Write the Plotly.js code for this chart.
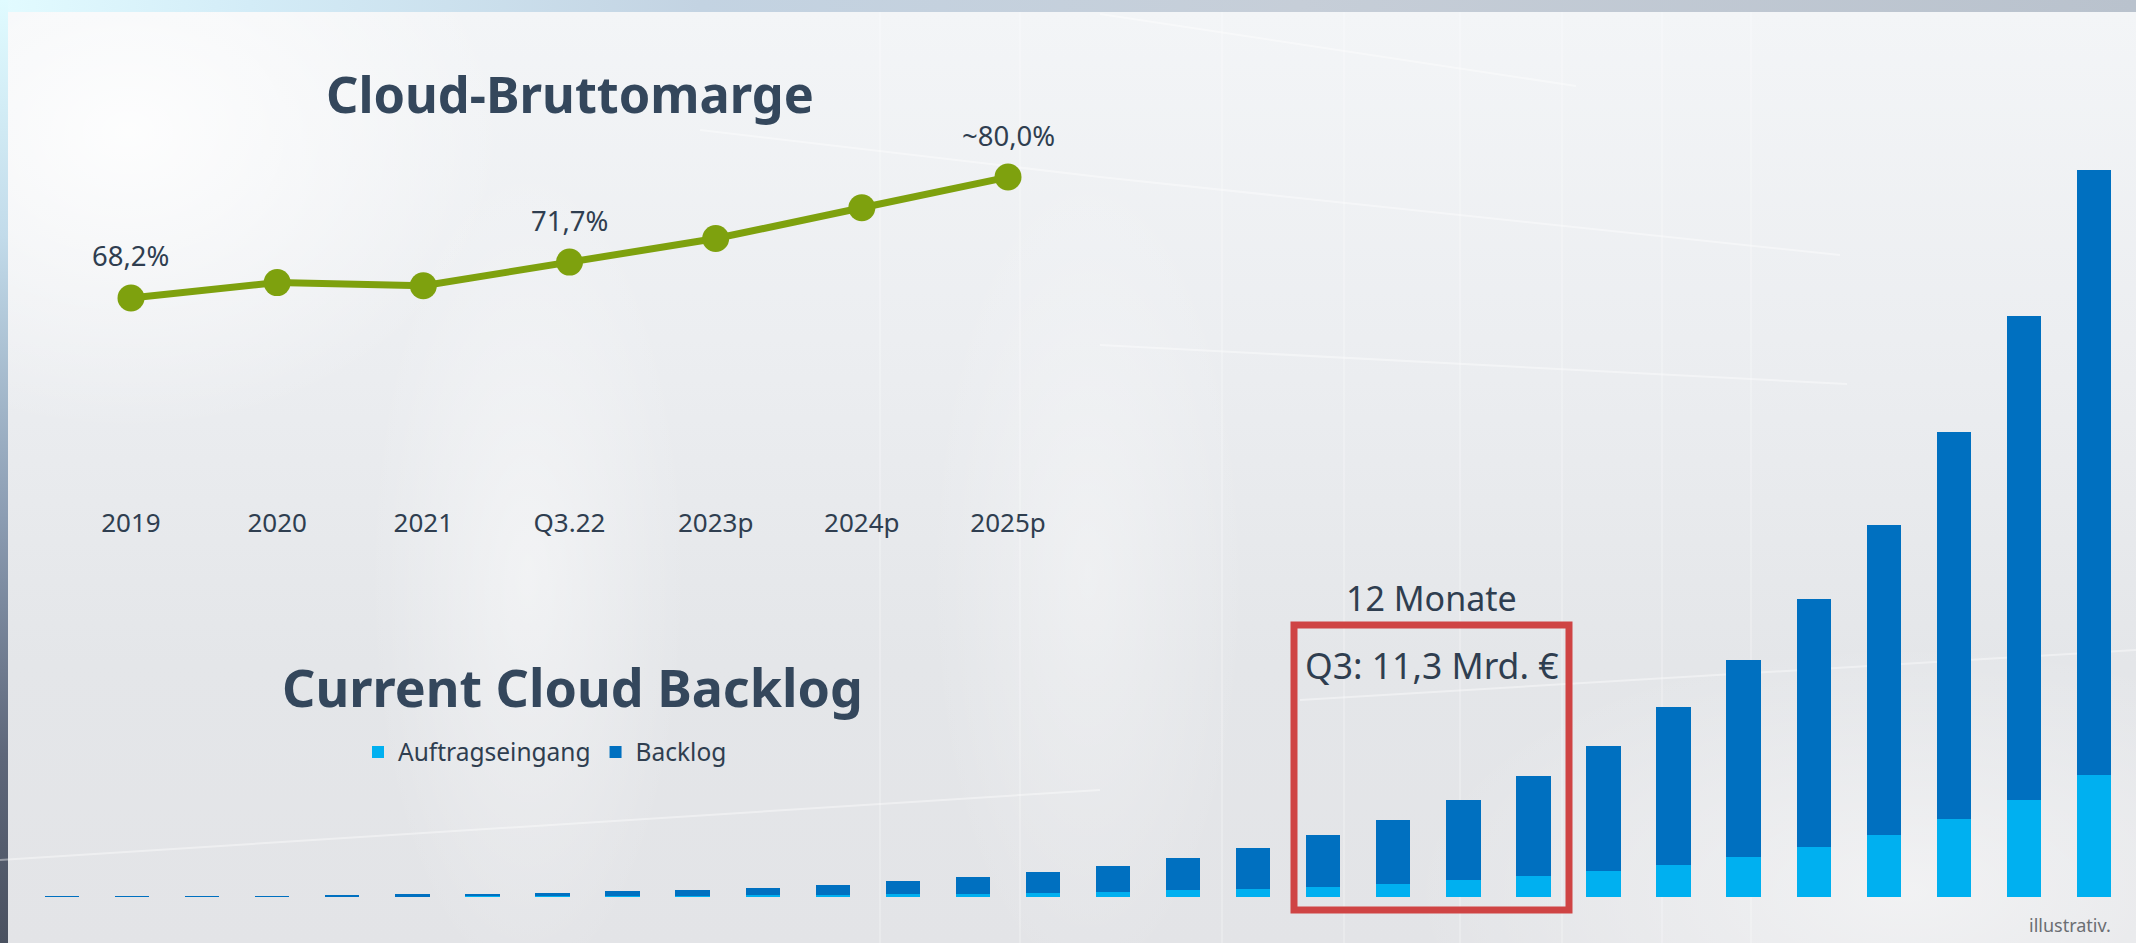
<!DOCTYPE html>
<html>
<head>
<meta charset="utf-8">
<script src="https://cdn.plot.ly/plotly-3.0.1.min.js"></script>
<style>
html,body{margin:0;padding:0;width:2136px;height:943px;overflow:hidden;background:#e9ebee;}
#frame{position:absolute;left:0;top:0;width:2136px;height:943px;
  background:linear-gradient(to right,#e2fbff 0px,#d3ecf7 250px,#c3d3e2 700px,#c6ced8 1300px,#b9c2cd 2136px);}
#leftstrip{position:absolute;left:0;top:0;width:8px;height:943px;
  background:linear-gradient(to bottom,#e0fbff 0%,#c2dbea 25%,#8b9cb2 55%,#5e677a 80%,#4a5160 100%);}
#panel{position:absolute;left:8px;top:12px;width:2128px;height:931px;
  background:
   radial-gradient(ellipse 380px 300px at 120px 120px, rgba(255,255,255,0.85), rgba(255,255,255,0) 100%),
   radial-gradient(ellipse 160px 420px at 520px 560px, rgba(255,255,255,0.45), rgba(255,255,255,0) 100%),
   radial-gradient(ellipse 160px 420px at 1080px 560px, rgba(255,255,255,0.35), rgba(255,255,255,0) 100%),
   radial-gradient(ellipse 500px 250px at 1900px 880px, rgba(255,255,255,0.5), rgba(255,255,255,0) 100%),
   linear-gradient(to bottom,#f3f5f7 0%,#eceef1 35%,#e4e6e9 70%,#e3e4e7 100%);}
#chart{position:absolute;left:0;top:0;width:2136px;height:943px;}
</style>
</head>
<body>
<div id="frame"></div>
<div id="leftstrip"></div>
<div id="panel"></div>
<div id="chart"></div>
<script>
// ---- Data: Cloud-Bruttomarge (line) ----
const years = ['2019', '2020', '2021', 'Q3.22', '2023p', '2024p', '2025p'];
const grossMargin = [68.2, 69.7, 69.4, 71.7, 74.0, 77.0, 80.0];
const marginLabels = ['68,2%', '', '', '71,7%', '', '', '~80,0%'];

// ---- Data: Current Cloud Backlog (stacked bars, illustrative) ----
const periods = ['P1','P2','P3','P4','P5','P6','P7','P8','P9','P10',
                 'P11','P12','P13','P14','P15','P16','P17','P18','P19','P20',
                 'P21','P22','P23','P24','P25','P26','P27','P28','P29','P30'];
const auftragseingang = [0.3, 0.3, 0.3, 0.3, 0.4, 0.5, 0.6, 0.8, 1, 1.2,
                         2, 2.5, 3, 3.5, 4.5, 5, 7, 8, 10, 13,
                         17, 21, 26, 32, 40, 50, 62, 78, 97, 122];
const backlog = [0.9, 1.0, 1.1, 1.2, 1.6, 2.1, 2.9, 3.6, 5, 6.3,
                 7.5, 9.5, 13, 16.5, 20.5, 26, 32, 41, 52, 64,
                 80, 100, 125, 158, 197, 248, 310, 387, 484, 605];

// ---- Texts ----
const titleMargin = 'Cloud-Bruttomarge';
const titleBacklog = 'Current Cloud Backlog';
const boxTop = '12 Monate';
const boxText = 'Q3: 11,3 Mrd. €';
const note = 'illustrativ.';

// ---- Layout helpers (pixel -> paper) ----
const W = 2136, H = 943;
const px = x => x / W;
const py = y => 1 - y / H;

const txt = '#2f3e50';
const titleCol = '#34475c';
const green = '#7ea10e';
const font = '"Noto Sans", "Open Sans", sans-serif';

const traces = [
  {
    type: 'scatter', mode: 'lines+markers',
    x: years, y: grossMargin, xaxis: 'x', yaxis: 'y',
    line: {color: green, width: 7},
    marker: {color: green, size: 27},
    showlegend: false, hoverinfo: 'skip', cliponaxis: false
  },
  {
    type: 'bar', name: 'Auftragseingang',
    x: periods, y: auftragseingang, xaxis: 'x2', yaxis: 'y2',
    marker: {color: '#00b0f0', line: {width: 0}}
  },
  {
    type: 'bar', name: 'Backlog',
    x: periods, y: backlog, xaxis: 'x2', yaxis: 'y2',
    marker: {color: '#0070c0', line: {width: 0}}
  }
];

const annotations = [];
years.forEach((yr, i) => {
  if (marginLabels[i]) {
    annotations.push({
      x: i, y: grossMargin[i], xref: 'x', yref: 'y',
      text: marginLabels[i], showarrow: false, yshift: 42,
      font: {family: font, size: 27.5, color: txt}
    });
  }
});
annotations.push(
  {x: px(570), y: py(93), xref: 'paper', yref: 'paper', text: '<b>' + titleMargin + '</b>',
   showarrow: false, xanchor: 'center', yanchor: 'middle',
   font: {family: font, size: 50.5, color: titleCol}},
  {x: px(572), y: py(686), xref: 'paper', yref: 'paper', text: '<b>' + titleBacklog + '</b>',
   showarrow: false, xanchor: 'center', yanchor: 'middle',
   font: {family: font, size: 52, color: titleCol}},
  {x: px(1431), y: py(598), xref: 'paper', yref: 'paper', text: boxTop,
   showarrow: false, xanchor: 'center', yanchor: 'middle',
   font: {family: font, size: 34, color: txt}},
  {x: px(1431), y: py(665), xref: 'paper', yref: 'paper', text: boxText,
   showarrow: false, xanchor: 'center', yanchor: 'middle',
   font: {family: font, size: 35.5, color: txt}},
  {x: px(2113), y: py(925), xref: 'paper', yref: 'paper', text: note,
   showarrow: false, xanchor: 'right', yanchor: 'middle',
   font: {family: font, size: 18, color: '#6b6e73'}}
);

// faint decorative background lines (ticker look)
const deco = [
  [700, 130, 1100, 177], [1100, 177, 1840, 255],
  [1100, 345, 1847, 384],
  [1100, 14, 1576, 86],
  [1300, 700, 2136, 650], [0, 860, 1100, 790]
];
const vlines = [1222, 1344, 1460, 1562, 1662, 1751, 880, 1020];
const shapes = [];
deco.forEach(d => shapes.push({type: 'line', xref: 'paper', yref: 'paper',
  x0: px(d[0]), y0: py(d[1]), x1: px(d[2]), y1: py(d[3]),
  line: {color: 'rgba(255,255,255,0.4)', width: 2}, layer: 'below'}));
vlines.forEach(v => shapes.push({type: 'line', xref: 'paper', yref: 'paper',
  x0: px(v), y0: py(12), x1: px(v), y1: py(943),
  line: {color: 'rgba(255,255,255,0.3)', width: 1.5}, layer: 'below'}));
// red highlight box
shapes.push({type: 'rect', xref: 'paper', yref: 'paper',
  x0: px(1294), y0: py(625), x1: px(1569), y1: py(910),
  line: {color: '#cf4444', width: 7}, fillcolor: 'rgba(0,0,0,0)', layer: 'above'});

const layout = {
  width: W, height: H,
  margin: {l: 0, r: 0, t: 0, b: 0, pad: 0},
  paper_bgcolor: 'rgba(0,0,0,0)', plot_bgcolor: 'rgba(0,0,0,0)',
  font: {family: font, color: txt},
  barmode: 'stack', bargap: 0.51,
  showlegend: true,
  legend: {orientation: 'h', x: px(358), y: py(752), xanchor: 'left', yanchor: 'middle',
           bgcolor: 'rgba(0,0,0,0)', font: {family: font, size: 24.5, color: txt},
           traceorder: 'normal'},
  xaxis: {domain: [px(57.9), px(1081.1)], anchor: 'y', type: 'category',
          range: [-0.5, 6.5], autorange: false,
          showgrid: false, zeroline: false, showline: false, ticks: '',
          tickfont: {family: font, size: 26, color: txt}, fixedrange: true},
  yaxis: {domain: [py(505), py(150)], anchor: 'x', range: [48.0, 82.64], autorange: false,
          visible: false, fixedrange: true},
  xaxis2: {domain: [px(27), px(2129)], anchor: 'y2', type: 'category', range: [-0.5, 29.5],
           autorange: false, visible: false, fixedrange: true},
  yaxis2: {domain: [py(897), py(150)], anchor: 'x2', range: [0, 747], autorange: false,
           visible: false, fixedrange: true},
  annotations: annotations,
  shapes: shapes
};

Plotly.newPlot('chart', traces, layout, {displayModeBar: false, staticPlot: true});
</script>
</body>
</html>
